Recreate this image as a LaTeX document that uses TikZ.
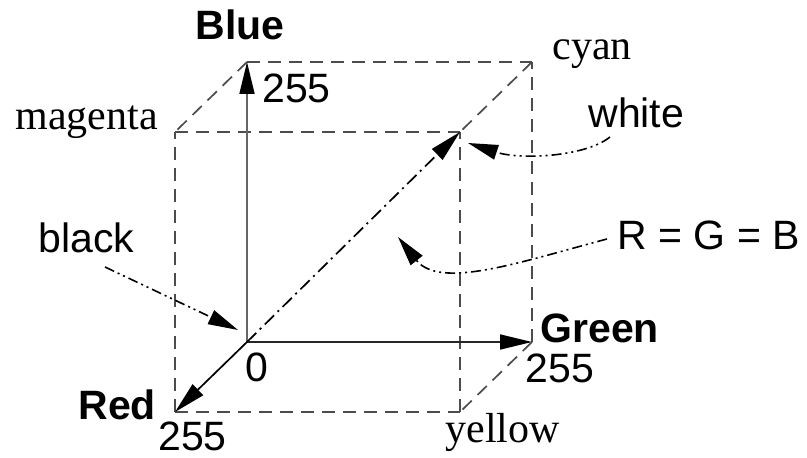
\documentclass[tikz,border=0pt]{standalone}
\usepackage{fontspec}
\setmainfont{Liberation Serif}
\newfontfamily\arialf{Liberation Sans}
\usetikzlibrary{arrows.meta}
\begin{document}
\begin{tikzpicture}[x=0.5pt,y=-0.5pt,
 edge/.style={draw=black!70, line width=0.85pt, dash pattern=on 6.5pt off 4pt},
 axis/.style={line width=0.85pt, -{Triangle[length=16pt,width=7.5pt,color=black]}},
 diag/.style={line width=0.85pt, dash pattern=on 6.5pt off 2.5pt on 1pt off 2.5pt, -{Triangle[length=16pt,width=7.5pt]}},
 pointer/.style={line width=0.8pt, dash pattern=on 5pt off 2pt on 1pt off 2pt on 1pt off 2pt, -{Triangle[length=15pt,width=7.5pt]}},
 sans/.style={font=\arialf\fontsize{20.5}{24}\selectfont, inner sep=0pt, anchor=base west},
 bsans/.style={font=\arialf\bfseries\fontsize{20.5}{24}\selectfont, inner sep=0pt, anchor=base west},
 serif/.style={font=\fontsize{21}{25}\selectfont, inner sep=0pt, anchor=base west}]
\useasboundingbox (0,0) rectangle (807,458);
% cube corners
\coordinate (O) at (247,342);
\coordinate (B) at (247,62);
\coordinate (G) at (532,342);
\coordinate (R) at (175,412);
\coordinate (M) at (175,132);
\coordinate (C) at (532,62);
\coordinate (Y) at (460,412);
\coordinate (W) at (460,132);
% dashed edges
\draw[edge] (B) -- (C);
\draw[edge] (B) -- (M);
\draw[edge] (G) -- (C);
\draw[edge] (G) -- (Y);
\draw[edge] (R) -- (M);
\draw[edge] (R) -- (Y);
\draw[edge] (M) -- (W);
\draw[edge] (C) -- (W);
\draw[edge] (Y) -- (W);
% axes
\draw[axis, draw=black!60] (O) -- (B);
\draw[axis, draw=black!85] (O) -- (G);
\draw[axis] (O) -- (R);
% diagonal
\draw[diag] (O) -- (W);
% labels
\node[bsans] (lblue) at (195,40) {Blue};
\node[sans] (b255) at (262,103) {255};
\node[serif] (lcyan) at (552,60) {cyan};
\node[serif] (lmag) at (15,130) {magenta};
\node[sans] (lwhite) at (588,128) {white};
\node[sans] (lblack) at (38,253) {black};
\node[sans] (lrgb) at (617,250) {R = G = B};
\node[bsans] (lgreen) at (540,343) {Green};
\node[sans] (g255) at (525,383) {255};
\node[sans] (l0) at (245,382) {0};
\node[bsans] (lred) at (78,420) {Red};
\node[sans] (r255) at (158,450) {255};
\node[serif] (lyellow) at (445,443) {yellow};
% pointers
\coordinate (blackS) at (105,267);
\coordinate (blackT) at (238,330);
\coordinate (whiteS) at (610,137);
\coordinate (whiteT) at (468,143);
\coordinate (rgbS) at (607,239);
\coordinate (rgbT) at (398,237);
\draw[pointer] (blackS) -- (blackT);
\draw[pointer] (whiteS) .. controls (585,157) and (520,160) .. (whiteT);
\draw[pointer] (rgbS) .. controls (520,262) and (440,290) .. (rgbT);
\end{tikzpicture}
\end{document}
